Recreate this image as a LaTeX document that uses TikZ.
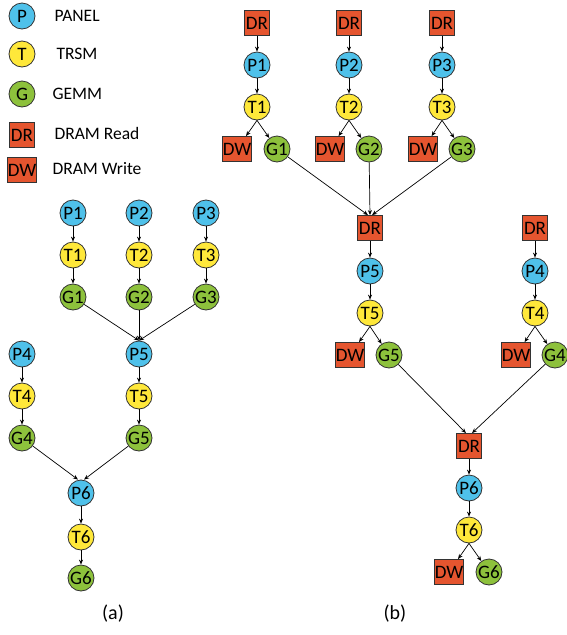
\documentclass[tikz,border=0pt]{standalone}
\usepackage{fontspec}
\setmainfont{Carlito}
\usetikzlibrary{arrows.meta}
\definecolor{pblue}{HTML}{4FC1EA}
\definecolor{tyellow}{HTML}{FFE83A}
\definecolor{ggreen}{HTML}{8DC13C}
\definecolor{dred}{HTML}{E5552F}
\definecolor{edgegray}{HTML}{333333}
\tikzset{
  task/.style={draw=edgegray, line width=0.8pt, inner sep=0pt, minimum size=26pt,
    font=\fontsize{19}{19}\selectfont},
  pnode/.style={task, circle, fill=pblue},
  tnode/.style={task, circle, fill=tyellow},
  gnode/.style={task, circle, fill=ggreen},
  mnode/.style={task, rectangle, fill=dred, minimum size=25pt},
  dep/.style={-{Stealth[length=5pt,width=4pt]}, line width=0.7pt, black},
  legendtext/.style={anchor=west, font=\fontsize{17.5}{17.5}\selectfont},
  caption/.style={font=\fontsize{20}{20}\selectfont}
}
\begin{document}
\begin{tikzpicture}[x=1pt, y=-1pt]
\useasboundingbox (0,0) rectangle (567,635);

% legend
\node[pnode] (lp) at (22,16) {P};
\node[tnode] (lt) at (22,54) {T};
\node[gnode] (lg) at (22,94) {G};
\node[mnode] (ldr) at (22,135) {DR};
\node[mnode] (ldw) at (22,170) {DW};
\node[legendtext] (lpt) at (51,16) {PANEL};
\node[legendtext] (ltt) at (53,54) {TRSM};
\node[legendtext] (lgt) at (49,94) {GEMM};
\node[legendtext] (ldrt) at (51,133) {DRAM Read};
\node[legendtext] (ldwt) at (49,169) {DRAM Write};

% (a) task graph
\node[pnode] (aP1) at (73,213) {P1};
\node[pnode] (aP2) at (139,213) {P2};
\node[pnode] (aP3) at (206,213) {P3};
\node[tnode] (aT1) at (73,255) {T1};
\node[tnode] (aT2) at (139,255) {T2};
\node[tnode] (aT3) at (206,255) {T3};
\node[gnode] (aG1) at (73,297) {G1};
\node[gnode] (aG2) at (139,297) {G2};
\node[gnode] (aG3) at (206,297) {G3};
\node[pnode] (aP4) at (22,354) {P4};
\node[pnode] (aP5) at (139,354) {P5};
\node[tnode] (aT4) at (22,396) {T4};
\node[tnode] (aT5) at (139,396) {T5};
\node[gnode] (aG4) at (22,438) {G4};
\node[gnode] (aG5) at (139,438) {G5};
\node[pnode] (aP6) at (81,493) {P6};
\node[tnode] (aT6) at (81,537) {T6};
\node[gnode] (aG6) at (81,578) {G6};
\node[caption] (capa) at (113,614) {(a)};

\foreach \i in {1,2,3,4,5,6} {
  \draw[dep] (aP\i) -- (aT\i);
  \draw[dep] (aT\i) -- (aG\i);
}
\foreach \i in {1,2,3} \draw[dep] (aG\i) -- (aP5.north);
\draw[dep] (aG4) -- ([xshift=-3pt]aP6.north);
\draw[dep] (aG5) -- ([xshift=3pt]aP6.north);

% (b) task graph with DRAM traffic
\node[mnode] (bR1) at (257,23) {DR};
\node[mnode] (bR2) at (349,23) {DR};
\node[mnode] (bR3) at (442,23) {DR};
\node[pnode] (bP1) at (257,65) {P1};
\node[pnode] (bP2) at (349,65) {P2};
\node[pnode] (bP3) at (442,65) {P3};
\node[tnode] (bT1) at (257,107) {T1};
\node[tnode] (bT2) at (349,107) {T2};
\node[tnode] (bT3) at (442,107) {T3};
\node[mnode] (bW1) at (237,149) {DW};
\node[mnode] (bW2) at (330,149) {DW};
\node[mnode] (bW3) at (423,149) {DW};
\node[gnode] (bG1) at (277,149) {G1};
\node[gnode] (bG2) at (369,149) {G2};
\node[gnode] (bG3) at (462,149) {G3};

\node[mnode] (bR5) at (370,228) {DR};
\node[mnode] (bR4) at (535,228) {DR};
\node[pnode] (bP5) at (370,271) {P5};
\node[pnode] (bP4) at (535,271) {P4};
\node[tnode] (bT5) at (370,313) {T5};
\node[tnode] (bT4) at (535,313) {T4};
\node[mnode] (bW5) at (350,355) {DW};
\node[gnode] (bG5) at (389,355) {G5};
\node[mnode] (bW4) at (516,355) {DW};
\node[gnode] (bG4) at (555,355) {G4};

\node[mnode] (bR6) at (469,446) {DR};
\node[pnode] (bP6) at (469,488) {P6};
\node[tnode] (bT6) at (469,530) {T6};
\node[mnode] (bW6) at (449,572) {DW};
\node[gnode] (bG6) at (489,572) {G6};
\node[caption] (capb) at (395,614) {(b)};

\foreach \i in {1,2,3,4,5,6} {
  \draw[dep] (bR\i) -- (bP\i);
  \draw[dep] (bP\i) -- (bT\i);
  \draw[dep] (bT\i.south) -- (bW\i);
  \draw[dep] (bT\i.south) -- (bG\i);
}
\draw[dep] (bG1) -- ([xshift=-2pt]bR5.north);
\draw[dep] (bG2) -- (bR5.north);
\draw[dep] (bG3) -- ([xshift=2pt]bR5.north);
\draw[dep] (bG5) -- ([xshift=-3pt]bR6.north);
\draw[dep] (bG4) -- ([xshift=3pt]bR6.north);
\end{tikzpicture}
\end{document}
